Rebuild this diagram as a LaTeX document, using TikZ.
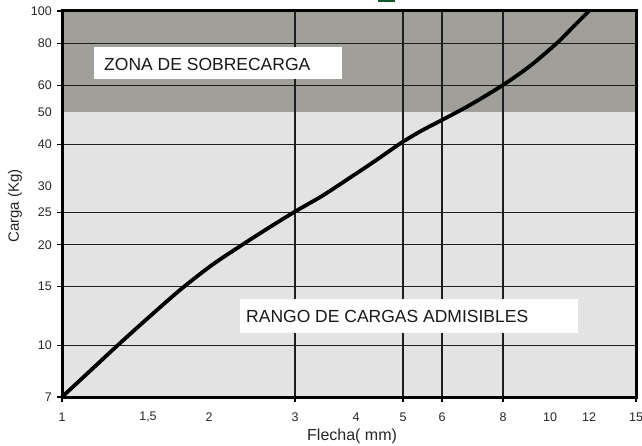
\documentclass[tikz,border=0pt]{standalone}
\usepackage{fontspec}
\setmainfont{Liberation Sans}
\definecolor{darkzone}{HTML}{A19F9A}
\definecolor{lightzone}{HTML}{E3E3E3}
\definecolor{gridc}{HTML}{1E1E1E}
\definecolor{titlegreen}{HTML}{0E5A2C}
\begin{document}
\begin{tikzpicture}[x=1pt,y=-1pt,
  gridline/.style={draw=gridc,line width=1.3pt},
  tickmark/.style={draw=black,line width=1.2pt},
  ticklab/.style={font=\fontsize{12.5}{14}\selectfont,text=black!85,inner sep=0pt},
  axlab/.style={font=\fontsize{15}{17}\selectfont,text=black!85,inner sep=0pt},
  zonebox/.style={fill=white,draw=none,inner sep=0pt,font=\fontsize{17.5}{20}\selectfont,text=black!90}]
\useasboundingbox (0,0) rectangle (642,446);
% cut-off title mark
\fill[titlegreen] (378,0) rectangle (395,1.6);
% zones
\fill[lightzone] (62,111.8) rectangle (636,397);
\fill[darkzone] (62,11) rectangle (636,111.8);
% horizontal grid lines
\foreach \yy in {43.6,85.4,144.2,212.3,244.7,286.4,345.3}
  \draw[gridline] (62,\yy) -- (636,\yy);
% vertical grid lines
\foreach \xx in {295,403,442,503}
  \draw[gridline] (\xx,11) -- (\xx,397);
% white label boxes
\node[zonebox,minimum width=248pt,minimum height=32pt,anchor=north west] (zbox) at (94,47) {};
\node[zonebox,anchor=west] (ztext) at (104,64) {ZONA DE SOBRECARGA};
\node[zonebox,minimum width=338pt,minimum height=34pt,anchor=north west] (rbox) at (240,299) {};
\node[zonebox,anchor=west] (rtext) at (246,316) {RANGO DE CARGAS ADMISIBLES};
% curve
\draw[line width=3.8pt,line cap=round,line join=round] plot[smooth,tension=0.5] coordinates
  {(62,397) (90,371) (118,345) (148,318) (180,290) (212,265) (245,243) (270,227) (296,211)
   (322,196) (348,179) (375,161) (401,143) (421,131) (442,120) (470,105) (503,85)
   (530,66) (557,43) (573,27) (589,11)};
% frame
\draw[line width=3pt] (62,11) rectangle (636,397);
% y ticks and labels
\foreach \yy/\lab/\nm in {11/100/ya,43.6/80/yb,85.4/60/yc,144.2/40/ye,212.3/25/yg,244.7/20/yh,286.4/15/yi,345.3/10/yj,397/7/yk}{
  \draw[tickmark] (57,\yy) -- (62,\yy);
  \node[ticklab,anchor=east] (\nm) at (52,\yy) {\lab};
}
\foreach \yy/\lab/\nm in {111.8/50/yd,185.9/30/yf}
  \node[ticklab,anchor=east] (\nm) at (52,\yy) {\lab};
% x ticks and labels
\foreach \xx/\lab/\nm in {62/1/xa,295/3/xd,403/5/xf,442/6/xg,503/8/xh,636/15/xk}{
  \draw[tickmark] (\xx,397) -- (\xx,402);
  \node[ticklab] (\nm) at (\xx,417) {\lab};
}
\foreach \xx/\lab/\nm in {148/{1,5}/xb,209/2/xc,356/4/xe,550/10/xi,589/12/xj}
  \node[ticklab] (\nm) at (\xx,417) {\lab};
% axis titles
\node[axlab,rotate=90] (ylab) at (15,206) {Carga (Kg)};
\node[axlab,anchor=west,font=\fontsize{16}{18}\selectfont] (xlab) at (307,436) {Flecha( mm)};
\end{tikzpicture}
\end{document}
